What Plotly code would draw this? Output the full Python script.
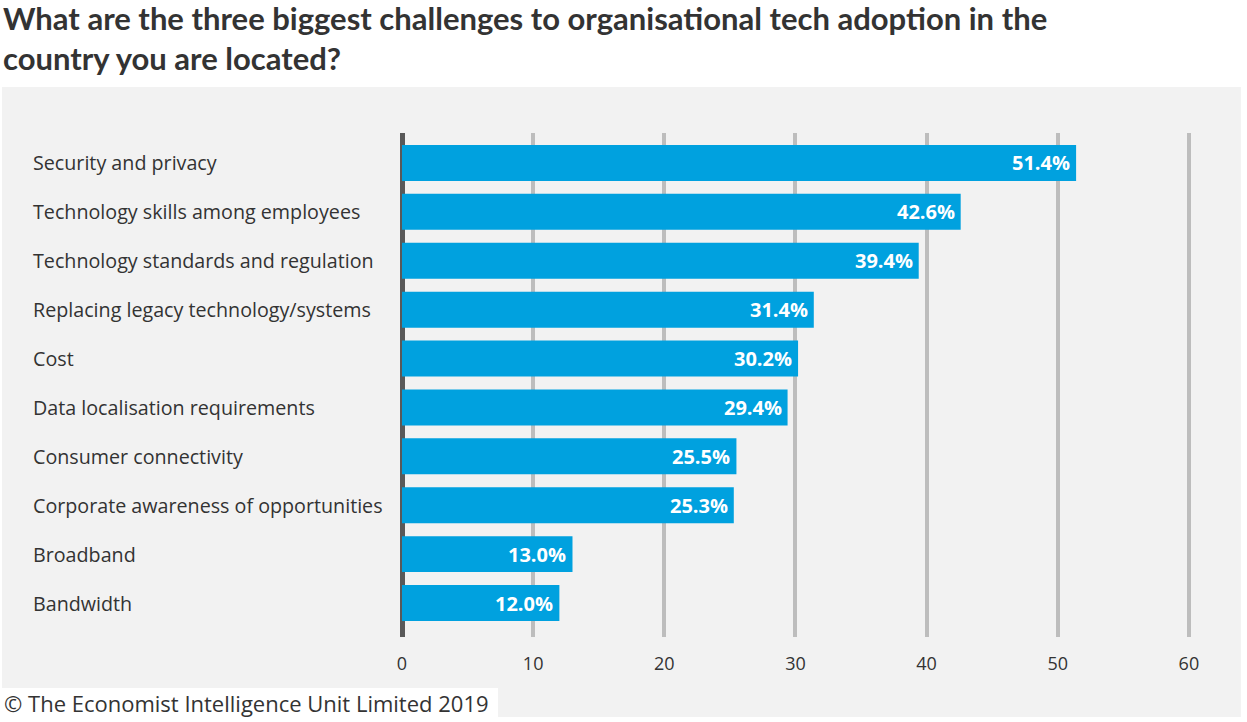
import plotly.graph_objects as go

categories = [
    "Security and privacy",
    "Technology skills among employees",
    "Technology standards and regulation",
    "Replacing legacy technology/systems",
    "Cost",
    "Data localisation requirements",
    "Consumer connectivity",
    "Corporate awareness of opportunities",
    "Broadband",
    "Bandwidth",
]
values = [51.4, 42.6, 39.4, 31.4, 30.2, 29.4, 25.5, 25.3, 13.0, 12.0]
x_ticks = [0, 10, 20, 30, 40, 50, 60]

title_text = ("What are the three biggest challenges to organisational tech adoption in the<br>"
              "country you are located?")
source_text = "© The Economist Intelligence Unit Limited 2019"

W, H = 1247, 722
XMAX = 61
L, T, B = 402, 133, 637  # plot area in pixels
R = L + XMAX * (1189 - 402) / 60

def px_x(p):
    return (p - L) / (R - L)

def px_y(p):
    return (B - p) / (B - T)

BLUE = "#00a1df"
fig = go.Figure()
fig.add_trace(go.Bar(
    y=list(range(len(categories))),
    x=values,
    orientation="h",
    marker=dict(color=BLUE, line=dict(width=0)),
    width=0.736,
    hoverinfo="skip",
))

annotations = []
for i, (c, v) in enumerate(zip(categories, values)):
    annotations.append(dict(
        x=px_x(31), xref="paper", y=i, yref="y", text=c, showarrow=False,
        xanchor="left", yanchor="middle",
        font=dict(family="Open Sans", size=19.7, color="#333333"),
    ))
    annotations.append(dict(
        x=v, xref="x", y=i, yref="y", text=f"{v:.1f}%", showarrow=False,
        xanchor="right", yanchor="middle", xshift=-4,
        font=dict(family="Open Sans", size=20, color="white", weight="bold"),
    ))

annotations.append(dict(
    x=px_x(2), xref="paper", y=px_y(703), yref="paper", text=source_text,
    showarrow=False, xanchor="left", yanchor="middle",
    font=dict(family="Open Sans", size=22, color="#333333"),
))

annotations.append(dict(
    x=px_x(1), xref="paper", y=px_y(-3), yref="paper", text=title_text,
    showarrow=False, xanchor="left", yanchor="top", align="left",
    font=dict(family="Lato", size=31, color="#333333", weight="bold"),
))

shapes = [
    dict(type="rect", xref="paper", yref="paper", layer="below",
         x0=px_x(2), x1=px_x(1241), y0=px_y(717), y1=px_y(87),
         fillcolor="#f2f2f2", line=dict(width=0)),
    dict(type="rect", xref="paper", yref="paper", layer="below",
         x0=px_x(0), x1=px_x(498), y0=px_y(722), y1=px_y(688),
         fillcolor="white", line=dict(width=0)),
]

fig.update_layout(
    width=W, height=H,
    margin=dict(l=L, r=W - R, t=T, b=H - B, pad=0),
    paper_bgcolor="white",
    plot_bgcolor="rgba(0,0,0,0)",
    showlegend=False,
    xaxis=dict(
        range=[0, XMAX], tickvals=x_ticks, ticktext=[str(t) for t in x_ticks],
        showgrid=True, gridcolor="#bdbdbd", gridwidth=4,
        zeroline=True, zerolinecolor="#595959", zerolinewidth=5,
        showline=False, ticks="outside", ticklen=10, tickcolor="rgba(0,0,0,0)",
        tickfont=dict(family="Open Sans", size=18, color="#333333"),
        fixedrange=True,
    ),
    yaxis=dict(
        range=[9.695, -0.613], showticklabels=False, showgrid=False,
        zeroline=False, showline=False, fixedrange=True,
    ),
    annotations=annotations,
    shapes=shapes,
)

fig.write_html(
    "out.html",
    config={"displayModeBar": False},
    post_script="document.body.style.margin='0';document.body.style.overflow='hidden';",
)
